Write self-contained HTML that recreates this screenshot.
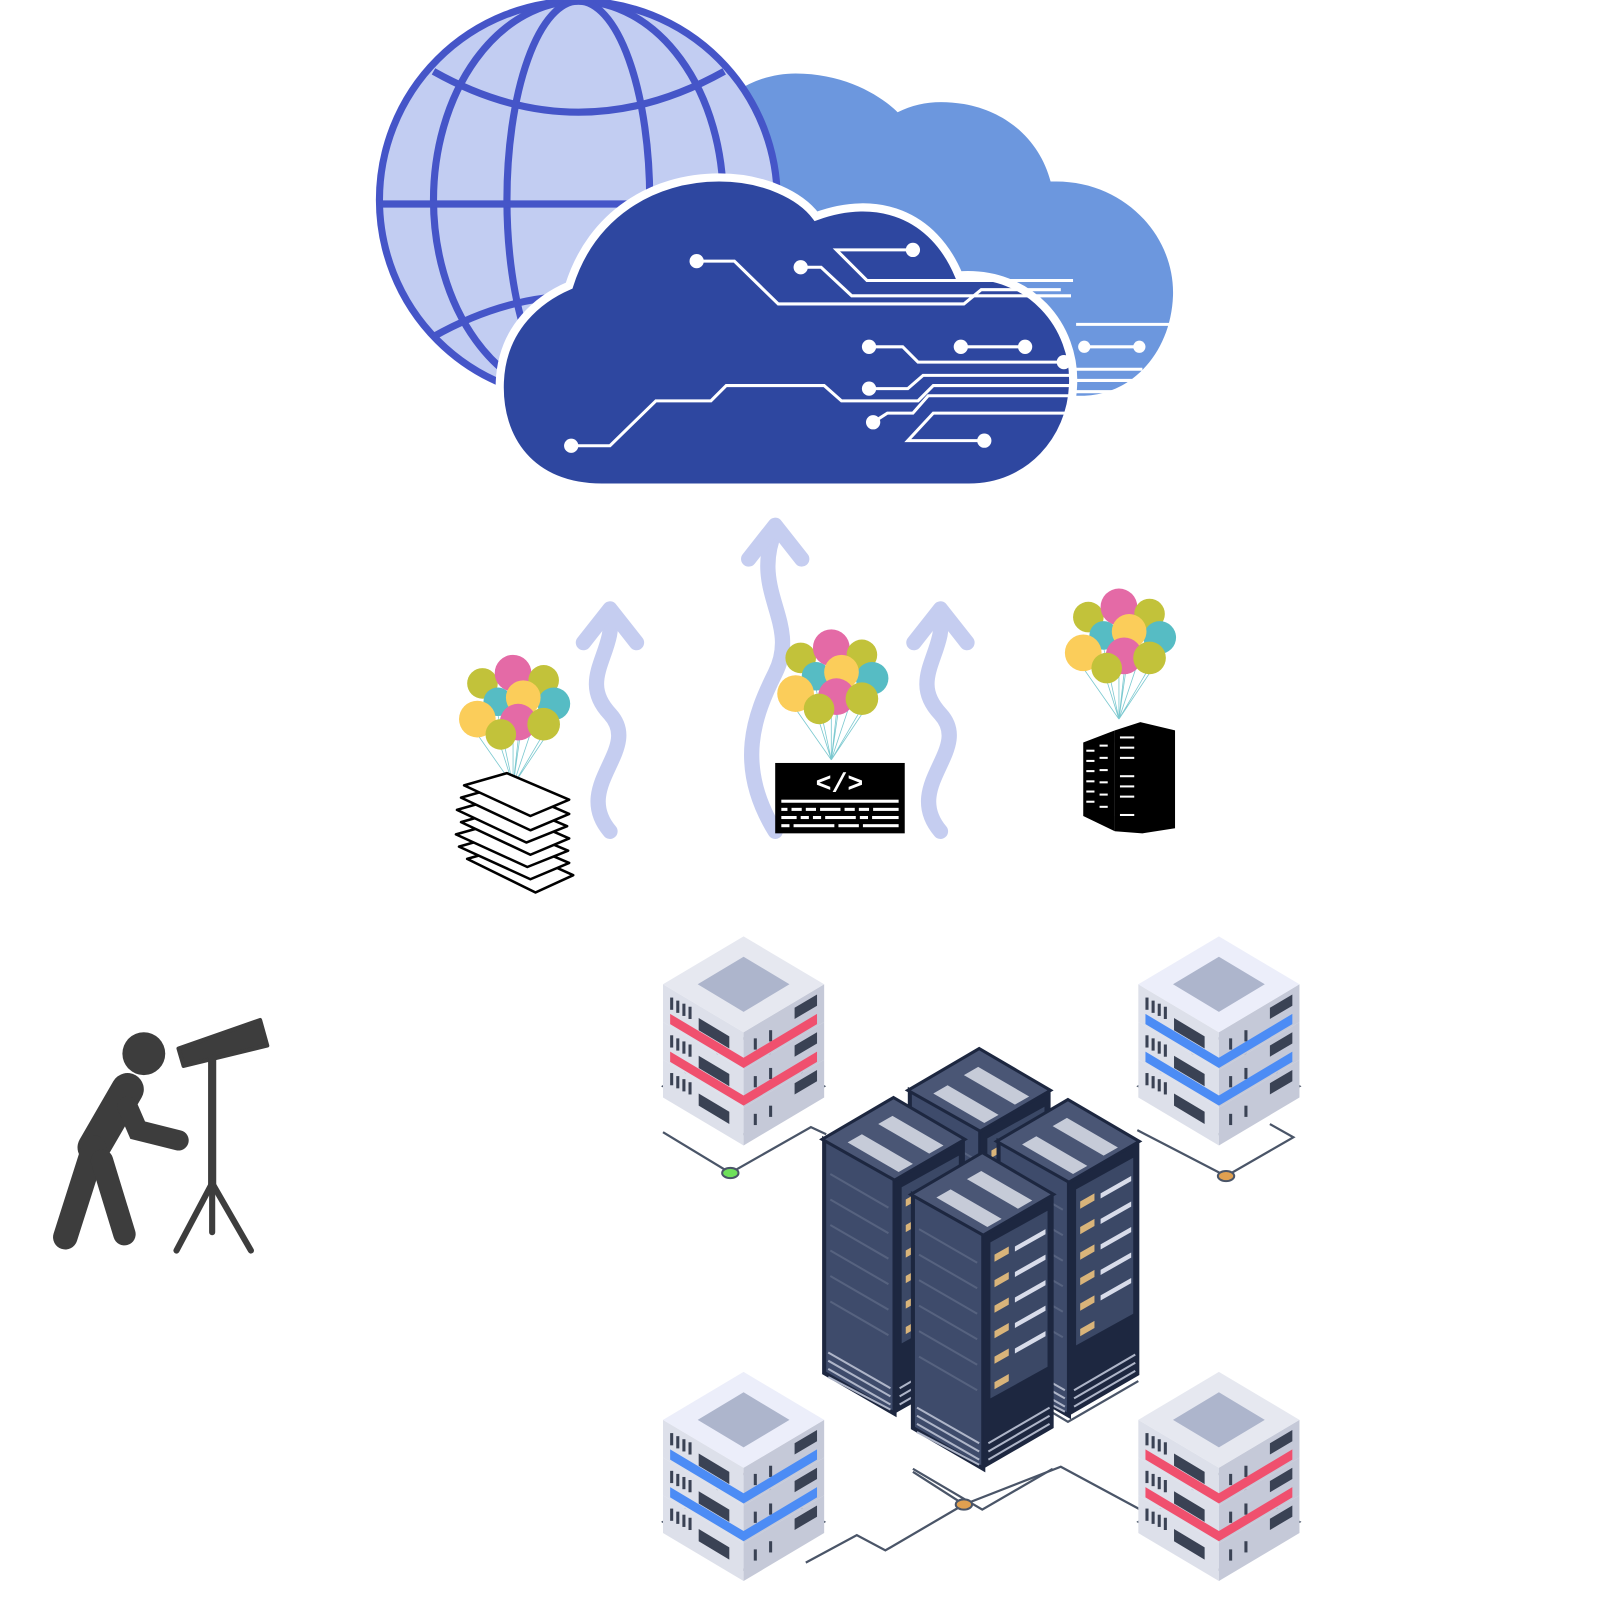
<!DOCTYPE html>
<html><head><meta charset="utf-8"><style>html,body{margin:0;padding:0;background:#fff}svg{display:block}</style></head>
<body>
<svg width="1600" height="1600" viewBox="0 0 1600 1600" xmlns="http://www.w3.org/2000/svg">
<defs>
<g id="bal">
  <g stroke="#7cc9d0" stroke-width="0.8" fill="none">
    <path d="M0 0 L-30 -95 M0 0 L0 -95 M0 0 L30 -90 M0 0 L-15 -70 M0 0 L10 -70 M0 0 L40 -68 M0 0 L-35 -50 M0 0 L5 -45 M0 0 L30 -45 M0 0 L-12 -38"/>
  </g>
  <circle cx="-30" cy="-100" r="15" fill="#c2c23a"/>
  <circle cx="0" cy="-110" r="18" fill="#e46aa6"/>
  <circle cx="30" cy="-103" r="15" fill="#c2c23a"/>
  <circle cx="-15" cy="-82" r="14" fill="#56bcc4"/>
  <circle cx="40" cy="-80" r="16" fill="#56bcc4"/>
  <circle cx="10" cy="-86" r="17" fill="#fbcd5a"/>
  <circle cx="-35" cy="-65" r="18" fill="#fbcd5a"/>
  <circle cx="5" cy="-62" r="18" fill="#e46aa6"/>
  <circle cx="30" cy="-60" r="16" fill="#c2c23a"/>
  <circle cx="-12" cy="-50" r="15" fill="#c2c23a"/>
</g>
<g id="tier">
  <polygon points="-79,47 0,94 0,131 -79,84" fill="#dde0ea"/>
  <polygon points="0,94 79,47 79,84 0,131" fill="#c5c9d8"/>
  <rect x="-72" y="60" width="3" height="12" fill="#3a4254"/>
  <rect x="-66" y="63" width="3" height="12" fill="#3a4254"/>
  <rect x="-60" y="66" width="3" height="12" fill="#3a4254"/>
  <rect x="-54" y="69" width="3" height="12" fill="#3a4254"/>
  <polygon points="-44,80 -14,98 -14,110 -44,92" fill="#3a4254"/>
  <polygon points="50,70 72,57 72,68 50,81" fill="#3a4254"/>
  <rect x="10" y="100" width="3" height="11" fill="#3a4254"/>
  <rect x="25" y="92" width="3" height="11" fill="#3a4254"/>
</g>
<g id="stackBase">
  <polygon points="-79,147 0,194 79,147 0,100" fill="none" stroke="#4a5568" stroke-width="2"/>
  <use href="#tier" y="74"/>
  <use href="#tier" y="37"/>
  <use href="#tier"/>
</g>
<g id="stackR">
  <use href="#stackBase"/>
  <g fill="#f0506e">
    <polygon points="-72,76 0,119 72,76 72,86 0,129 -72,86"/>
    <polygon points="-72,113 0,156 72,113 72,123 0,166 -72,123"/>
  </g>
  <polygon points="0,0 79,47 0,94 -79,47" fill="#e6e8f0"/>
  <polygon points="0,20 45,47 0,74 -45,47" fill="#adb5cc"/>
</g>
<g id="stackB">
  <use href="#stackBase"/>
  <g fill="#4c8cf5">
    <polygon points="-72,76 0,119 72,76 72,86 0,129 -72,86"/>
    <polygon points="-72,113 0,156 72,113 72,123 0,166 -72,123"/>
  </g>
  <polygon points="0,0 79,47 0,94 -79,47" fill="#eceefa"/>
  <polygon points="0,20 45,47 0,74 -45,47" fill="#adb5cc"/>
</g>
<g id="rack">
  <polygon points="-68,41 1,79 1,310 -68,270" fill="#3e4b6b" stroke="#1d2740" stroke-width="4"/>
  <polygon points="1,79 70,41 70,270 1,310" fill="#1d2740"/>
  <polygon points="8,88 64,57 64,210 8,241" fill="#3b4866"/>
  <g fill="#d9b47a">
    <polygon points="12,100 26,92 26,99 12,107"/><polygon points="12,125 26,117 26,124 12,132"/>
    <polygon points="12,150 26,142 26,149 12,157"/><polygon points="12,175 26,167 26,174 12,182"/>
    <polygon points="12,200 26,192 26,199 12,207"/><polygon points="12,225 26,217 26,224 12,232"/>
  </g>
  <g fill="#d8dcea">
    <polygon points="32,92 62,75 62,80 32,97"/><polygon points="32,117 62,100 62,105 32,122"/>
    <polygon points="32,142 62,125 62,130 32,147"/><polygon points="32,167 62,150 62,155 32,172"/>
    <polygon points="32,192 62,175 62,180 32,197"/>
  </g>
  <g stroke="#56627f" stroke-width="2">
    <line x1="-62" y1="75" x2="-5" y2="108"/><line x1="-62" y1="100" x2="-5" y2="133"/>
    <line x1="-62" y1="125" x2="-5" y2="158"/><line x1="-62" y1="150" x2="-5" y2="183"/>
    <line x1="-62" y1="175" x2="-5" y2="208"/><line x1="-62" y1="200" x2="-5" y2="233"/>
  </g>
  <g stroke="#aeb5c8" stroke-width="2">
    <line x1="-64" y1="250" x2="-3" y2="285"/><line x1="-64" y1="258" x2="-3" y2="293"/>
    <line x1="-64" y1="266" x2="-3" y2="301"/><line x1="-64" y1="274" x2="-3" y2="306"/>
    <line x1="6" y1="285" x2="66" y2="250"/><line x1="6" y1="293" x2="66" y2="258"/><line x1="6" y1="301" x2="66" y2="266"/>
  </g>
  <polygon points="0,0 70,41 1,81 -70,41" fill="#4a5675" stroke="#1d2740" stroke-width="3"/>
  <polygon points="-45,44 -31,36 19,65 5,73" fill="#c6cbd8"/>
  <polygon points="-15,26 -1,18 49,47 35,55" fill="#c6cbd8"/>
</g>
</defs>

<g transform="scale(1.02)">
<!-- back cloud -->
<path d="M700 388 L700 110 C720 85 750 72 780 72 C830 72 865 95 880 110 C900 100 920 98 945 102 C990 110 1020 140 1030 178 C1100 175 1152 230 1150 290 C1148 345 1110 388 1060 388 Z" fill="#6c97de"/>
<g stroke="#fff" stroke-width="3">
  <line x1="1055" y1="318" x2="1150" y2="318"/>
  <line x1="1055" y1="362" x2="1120" y2="362"/>
  <line x1="1055" y1="373" x2="1112" y2="373"/>
  <line x1="1055" y1="384" x2="1100" y2="384"/>
  <line x1="1063" y1="340" x2="1117" y2="340"/>
</g>
<circle cx="1063" cy="340" r="6" fill="#fff"/><circle cx="1117" cy="340" r="6" fill="#fff"/>
<!-- globe -->
<circle cx="567" cy="196" r="195" fill="#c2cdf2" stroke="#4555c8" stroke-width="7"/>
<g fill="none" stroke="#4555c8" stroke-width="7">
  <ellipse cx="567" cy="196" rx="142" ry="195"/>
  <ellipse cx="567" cy="196" rx="70" ry="195"/>
  <line x1="372" y1="200" x2="762" y2="200"/>
  <path d="M425 70 Q567 150 710 70"/>
  <path d="M425 330 Q567 250 710 330"/>
</g>
<!-- front cloud -->
<path d="M590 478 C520 478 488 430 490 375 C492 320 530 292 558 280 C580 210 640 174 705 174 C750 174 785 192 800 212 C860 190 915 210 940 270 C1010 265 1055 320 1052 378 C1050 430 1010 478 950 478 Z" fill="#2e47a0" stroke="#fff" stroke-width="8"/>
<g fill="none" stroke="#fff" stroke-width="3">
  <path d="M683 256 H720 L763 298 H945 L962 284 H1040"/>
  <path d="M785 262 H805 L835 290 H1050"/>
  <path d="M895 245 H820 L850 275 H1052"/>
  <path d="M852 340 H885 L900 355 H1045"/>
  <path d="M942 340 H1005"/>
  <path d="M560 437 H598 L643 393 H697 L712 378 H808 L825 393 H900 L915 378 H1050"/>
  <path d="M852 381 H890 L905 368 H1050"/>
  <path d="M856 414 L870 405 H895 L910 388 H1050"/>
  <path d="M965 432 H890 L915 405 H1050"/>
</g>
<g fill="#fff">
  <circle cx="683" cy="256" r="7"/><circle cx="785" cy="262" r="7"/><circle cx="895" cy="245" r="7"/>
  <circle cx="852" cy="340" r="7"/><circle cx="942" cy="340" r="7"/><circle cx="1005" cy="340" r="7"/>
  <circle cx="560" cy="437" r="7"/><circle cx="852" cy="381" r="7"/><circle cx="856" cy="414" r="7"/>
  <circle cx="965" cy="432" r="7"/><circle cx="1043" cy="355" r="7"/>
</g>
<!-- arrows -->
<g fill="none" stroke="#c5cdf0" stroke-width="15" stroke-linecap="round" stroke-linejoin="round">
  <path d="M598 815 C560 770 630 735 598 700 C565 665 605 640 598 600"/>
  <path d="M572 630 L598 597 L624 630"/>
  <path d="M760 815 C720 750 740 700 760 660 C785 610 735 580 760 520"/>
  <path d="M734 548 L760 515 L786 548"/>
  <path d="M922 815 C884 770 954 735 922 700 C889 665 929 640 922 600"/>
  <path d="M896 630 L922 597 L948 630"/>
</g>
<!-- balloons -->
<use href="#bal" x="503" y="770"/>
<use href="#bal" x="815" y="745"/>
<use href="#bal" x="1097" y="705"/>
<!-- paper stack -->
<g fill="#fff" stroke="#000" stroke-width="2.5" stroke-linejoin="round">
  <polygon points="458,842 500,830 562,858 525,875"/>
  <polygon points="450,830 492,818 558,846 520,862"/>
  <polygon points="447,818 490,806 557,834 517,850"/>
  <polygon points="452,806 494,794 558,822 520,838"/>
  <polygon points="448,794 490,782 556,810 516,826"/>
  <polygon points="452,782 494,770 558,798 520,814"/>
  <polygon points="455,770 497,758 558,784 520,800"/>
</g>
<!-- code keyboard -->
<rect x="760" y="748" width="127" height="69" fill="#000"/>
<text x="823" y="776" font-family="Liberation Mono, monospace" font-size="26" font-weight="bold" fill="#fff" text-anchor="middle">&lt;/&gt;</text>
<g fill="#fff">
  <rect x="766" y="784" width="115" height="3"/>
  <rect x="766" y="792" width="6" height="3"/><rect x="776" y="792" width="10" height="3"/><rect x="790" y="792" width="10" height="3"/><rect x="804" y="792" width="20" height="3"/><rect x="828" y="792" width="10" height="3"/><rect x="842" y="792" width="10" height="3"/><rect x="856" y="792" width="25" height="3"/>
  <rect x="766" y="800" width="15" height="3"/><rect x="785" y="800" width="8" height="3"/><rect x="797" y="800" width="8" height="3"/><rect x="809" y="800" width="30" height="3"/><rect x="843" y="800" width="8" height="3"/><rect x="855" y="800" width="26" height="3"/>
  <rect x="766" y="808" width="8" height="3"/><rect x="778" y="808" width="40" height="3"/><rect x="822" y="808" width="20" height="3"/><rect x="846" y="808" width="35" height="3"/>
</g>
<!-- server tower -->
<polygon points="1062,728 1093,716 1093,815 1062,800" fill="#000"/>
<polygon points="1093,716 1118,708 1152,716 1152,812 1120,817 1093,815" fill="#000"/>
<g fill="#fff">
  <rect x="1065" y="735" width="8" height="2"/><rect x="1065" y="745" width="8" height="2"/><rect x="1065" y="755" width="8" height="2"/><rect x="1065" y="765" width="8" height="2"/><rect x="1065" y="775" width="8" height="2"/><rect x="1065" y="785" width="8" height="2"/>
  <rect x="1078" y="730" width="8" height="2"/><rect x="1078" y="742" width="8" height="2"/><rect x="1078" y="754" width="8" height="2"/><rect x="1078" y="766" width="8" height="2"/><rect x="1078" y="778" width="8" height="2"/><rect x="1078" y="790" width="8" height="2"/>
  <rect x="1098" y="722" width="14" height="2"/><rect x="1098" y="732" width="14" height="2"/><rect x="1098" y="742" width="14" height="2"/><rect x="1098" y="760" width="14" height="2"/><rect x="1098" y="770" width="14" height="2"/><rect x="1098" y="780" width="14" height="2"/><rect x="1098" y="798" width="14" height="2"/>
</g>
<!-- telescope person -->
<g fill="#3d3d3d" stroke="#3d3d3d" stroke-linecap="round">
  <circle cx="141" cy="1033" r="21" stroke="none"/>
  <path d="M125 1068 L92 1125" stroke-width="32" fill="none"/>
  <path d="M125 1085 L135 1108 L175 1118" stroke-width="20" fill="none"/>
  <path d="M92 1125 L64 1213" stroke-width="24" fill="none"/>
  <path d="M100 1138 L122 1210" stroke-width="22" fill="none"/>
  <polygon points="175,1028 255,1000 262,1025 180,1045" stroke-width="4" stroke-linejoin="round"/>
  <line x1="208" y1="1038" x2="208" y2="1165" stroke-width="8"/>
  <line x1="208" y1="1160" x2="173" y2="1226" stroke-width="6"/>
  <line x1="208" y1="1160" x2="246" y2="1226" stroke-width="6"/>
  <line x1="208" y1="1160" x2="208" y2="1208" stroke-width="6"/>
</g>
<!-- connectors -->
<g fill="none" stroke="#4a5568" stroke-width="2.2">
  <path d="M650 1110 L716 1150 L795 1105 L810 1112"/>
  <path d="M1115 1108 L1202 1153 L1268 1115 L1245 1102"/>
  <path d="M895 1443 L945 1475 L1040 1438 L1118 1480"/>
  <path d="M790 1532 L840 1505 L868 1520 L945 1475"/>
  <path d="M808 1345 L876 1385 L900 1372"/>
  <path d="M895 1440 L963 1480 L1032 1440"/>
  <path d="M1032 1385 L1047 1394 L1116 1354"/>
</g>
<!-- server stacks -->
<use href="#stackR" x="729" y="918"/>
<use href="#stackB" x="1195" y="918"/>
<use href="#stackB" x="729" y="1345"/>
<use href="#stackR" x="1195" y="1345"/>
<!-- racks -->
<use href="#rack" x="960" y="1028"/>
<use href="#rack" x="876" y="1076"/>
<use href="#rack" x="1047" y="1078"/>
<use href="#rack" x="963" y="1130"/>
<ellipse cx="716" cy="1150" rx="8" ry="5" fill="#6ee05a" stroke="#4a5568" stroke-width="2"/>
<ellipse cx="1202" cy="1153" rx="8" ry="5" fill="#e0a050" stroke="#4a5568" stroke-width="2"/>
<ellipse cx="945" cy="1475" rx="8" ry="5" fill="#e0a050" stroke="#4a5568" stroke-width="2"/>
</g>
</svg>
</body></html>
